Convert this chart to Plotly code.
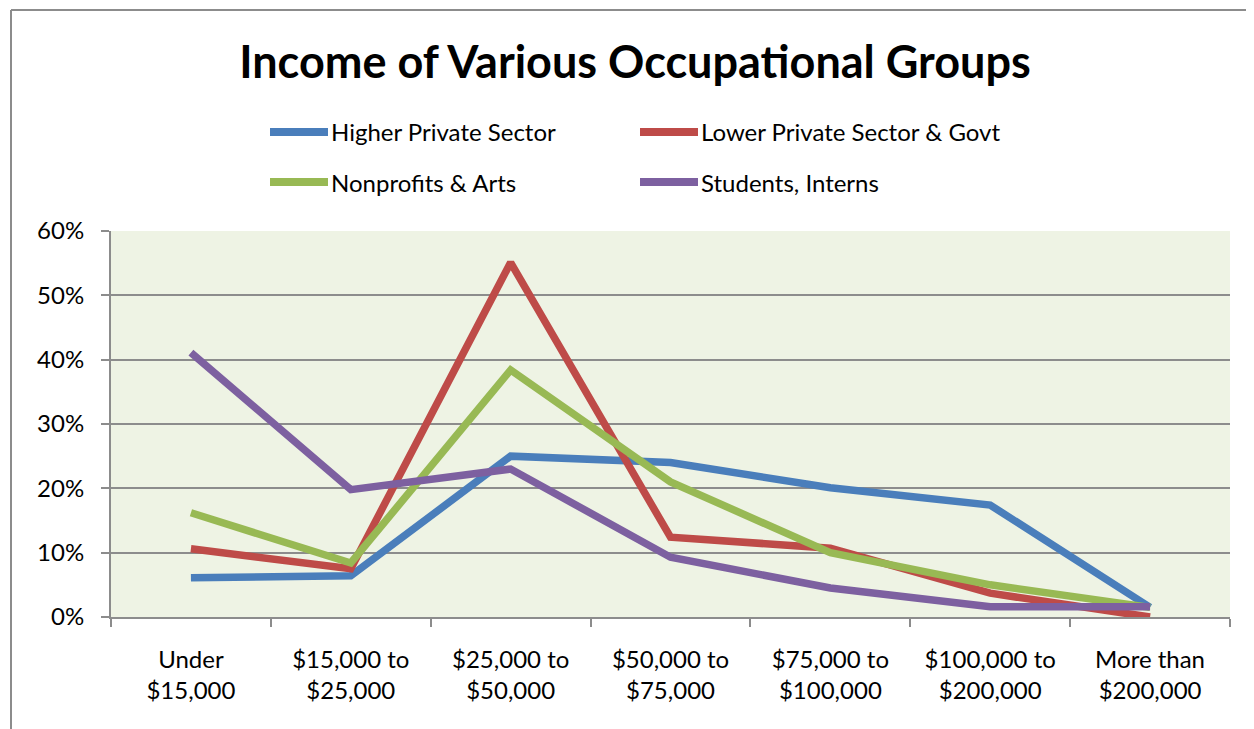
import plotly.graph_objects as go

# income brackets (x categories)
categories = ['Under<br>$15,000', '$15,000 to<br>$25,000', '$25,000 to<br>$50,000',
              '$50,000 to<br>$75,000', '$75,000 to<br>$100,000', '$100,000 to<br>$200,000',
              'More than<br>$200,000']

# share of each group in each bracket (fractions)
higher_private = [0.061, 0.064, 0.250, 0.240, 0.201, 0.174, 0.015]
lower_private_govt = [0.106, 0.075, 0.551, 0.124, 0.107, 0.037, 0.000]
nonprofits_arts = [0.162, 0.084, 0.384, 0.210, 0.100, 0.050, 0.015]
students_interns = [0.411, 0.198, 0.230, 0.093, 0.045, 0.016, 0.016]

series_names = ['Higher Private Sector', 'Lower Private Sector & Govt',
                'Nonprofits & Arts', 'Students, Interns']
series_values = [higher_private, lower_private_govt, nonprofits_arts, students_interns]
series_colors = ['#4A7EBB', '#BE4B48', '#98B954', '#7D60A0']

FONT = 'Lato'

fig = go.Figure()
for name, vals, col in zip(series_names, series_values, series_colors):
    fig.add_trace(go.Scatter(x=categories, y=vals, mode='lines', name=name,
                             line=dict(color=col, width=7.5)))

# page body has an 8px margin, so work in page pixels and shift back
OFF = 8
W, H = 1254, 729
ml, mt = 111 - OFF, 231 - OFF
pw, ph = 1119, 386
mr, mb = W - ml - pw, H - mt - ph

def px_x(px):
    return (px - OFF - ml) / pw

def px_y(py):
    return (mt + ph - (py - OFF)) / ph

# hand-built legend, 2 columns x 2 rows
shapes = []
annotations = []
legend_pos = [(270, 132), (640, 132), (270, 182), (640, 182)]
for (lx, ly), name, col in zip(legend_pos, series_names, series_colors):
    shapes.append(dict(type='line', xref='paper', yref='paper',
                       x0=px_x(lx), x1=px_x(lx + 58), y0=px_y(ly), y1=px_y(ly),
                       line=dict(color=col, width=8)))
    annotations.append(dict(xref='paper', yref='paper', x=px_x(lx + 59), y=px_y(ly),
                            xanchor='left', yanchor='middle', showarrow=False,
                            text=name, font=dict(family=FONT, size=24, color='black')))

# chart border (cropped at right and bottom)
shapes.append(dict(type='line', xref='paper', yref='paper',
                   x0=px_x(11), x1=px_x(11), y0=px_y(10), y1=px_y(760),
                   line=dict(color='#8C8C8C', width=2)))
shapes.append(dict(type='line', xref='paper', yref='paper',
                   x0=px_x(11), x1=px_x(1270), y0=px_y(10), y1=px_y(10),
                   line=dict(color='#8C8C8C', width=2)))

fig.update_layout(
    width=W, height=H,
    margin=dict(l=ml, r=mr, t=mt, b=mb),
    paper_bgcolor='white',
    plot_bgcolor='#EEF3E4',
    showlegend=False,
    title=dict(text='<b>Income of Various Occupational Groups</b>',
               x=(635 - OFF) / W, xref='container', xanchor='center',
               y=1 - (62 - OFF) / H, yref='container', yanchor='middle',
               font=dict(family=FONT, size=45, color='black')),
    shapes=shapes,
    annotations=annotations,
)

fig.update_xaxes(type='category', range=[-0.5, 6.5], showgrid=False,
                 showline=True, linecolor='#8C8C8C', linewidth=2,
                 ticks='outside', tickson='boundaries', ticklen=8, tickwidth=2,
                 tickcolor='#8C8C8C', ticklabelstandoff=20,
                 tickfont=dict(family=FONT, size=24, color='black'))
fig.update_yaxes(range=[0, 0.6], dtick=0.1, tickformat='.0%',
                 showgrid=True, gridcolor='#8C8C8C', gridwidth=2,
                 showline=True, linecolor='#8C8C8C', linewidth=2,
                 ticks='outside', ticklen=8, tickwidth=2, tickcolor='#8C8C8C',
                 ticklabelstandoff=12, zeroline=False,
                 tickfont=dict(family=FONT, size=24, color='black'))

fig.write_html('out.html')
